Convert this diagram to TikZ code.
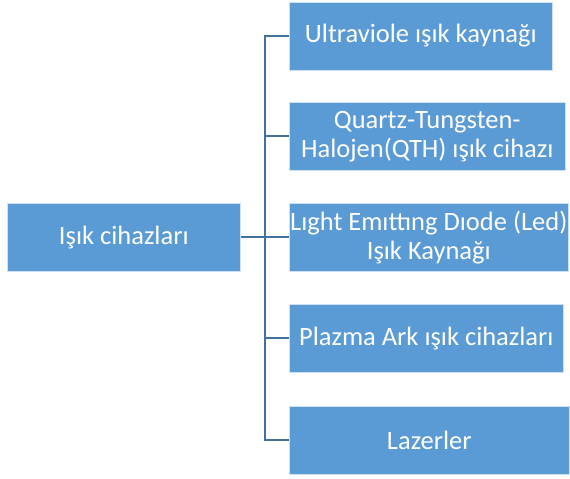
\documentclass[tikz,border=0pt]{standalone}
\usepackage{fontspec}
\setmainfont{Carlito}
\definecolor{boxblue}{HTML}{5B9BD5}
\definecolor{linkblue}{HTML}{41719C}
\usetikzlibrary{positioning}

\begin{document}
\begin{tikzpicture}[x=1pt,y=1pt,
	lightbox/.style={draw=white!70!boxblue, line width=0.6pt, fill=boxblue, text=white, align=center, minimum height=68pt, inner sep=0pt, anchor=west, font=\fontsize{26.5}{29}\selectfont},
	link/.style={draw=linkblue, line width=2pt}]
					\useasboundingbox (0,0) rectangle (570,479);
					\node (root) [lightbox, minimum width=233pt] at (7,241.5) {Işık cihazları};
					\node (uv) [lightbox, minimum width=263pt] at (289,443) {Ultraviole ışık kaynağı};
					\node (qth) [lightbox, minimum width=276pt] at (289,342.5) {Quartz-Tungsten-\\Halojen(QTH) ışık cihazı};
					\node (led) [lightbox, minimum width=279pt] at (289,241.5) {Lıght Emıttıng Dıode (Led)\\Işık Kaynağı};
					\node (pac) [lightbox, minimum width=274pt] at (289,140.5) {Plazma Ark ışık cihazları};
					\node (laz) [lightbox, minimum width=280pt] at (289,39) {Lazerler};
					\coordinate (hub) at (265,241.5);
					\path[link]
					(root.east) -- (hub)
					(hub) |- (uv.west)
					(hub) |- (qth.west)
					(hub) -- (led.west)
					(hub) |- (pac.west)
					(hub) |- (laz.west);
				\end{tikzpicture}
\end{document}
